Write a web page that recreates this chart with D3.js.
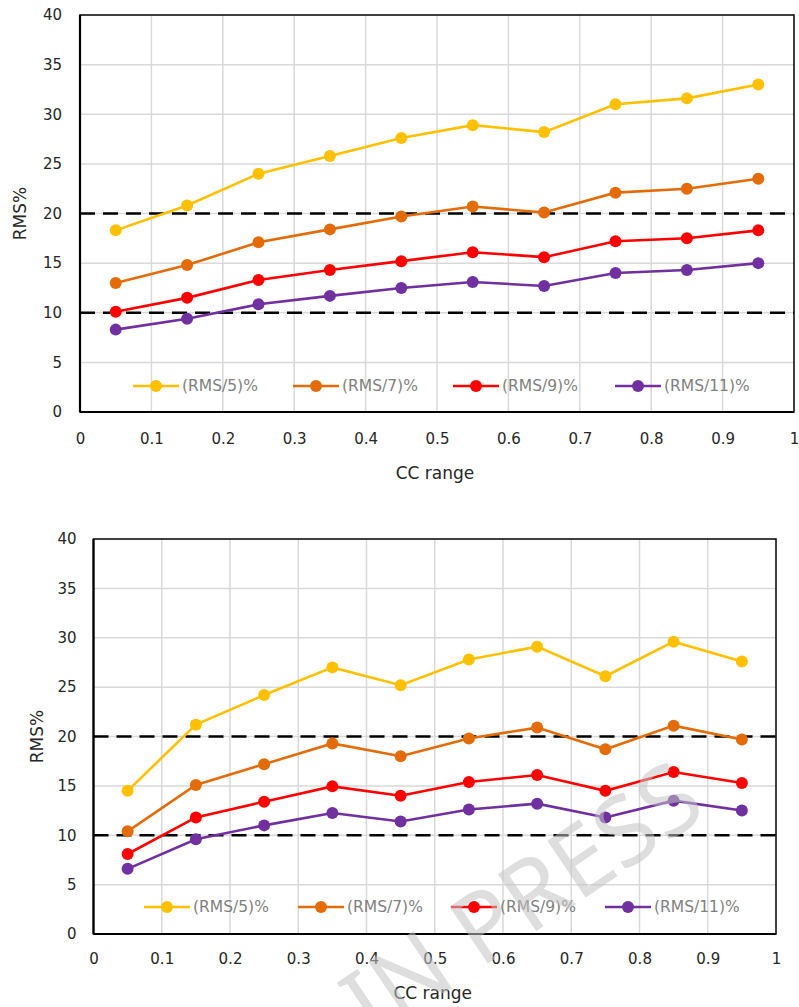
<!DOCTYPE html>
<html>
<head>
<meta charset="utf-8">
<script src="https://cdn.jsdelivr.net/npm/d3@7"></script>
<style>
  html, body { margin: 0; padding: 0; background: #fff; }
  svg { display: block; }
  text { font-family: "DejaVu Sans", "Noto Sans", sans-serif; }
</style>
</head>
<body>
<svg id="chart" width="799" height="1007"></svg>
<script>
// ---- Data ----
const ccRange = [0.05, 0.15, 0.25, 0.35, 0.45, 0.55, 0.65, 0.75, 0.85, 0.95];
const seriesNames = ["(RMS/5)%", "(RMS/7)%", "(RMS/9)%", "(RMS/11)%"];
const seriesColors = ["#FFC000", "#E36C09", "#FF0000", "#7030A0"];

// Top chart
const topRms5  = [18.3, 20.8, 24.0, 25.8, 27.6, 28.9, 28.2, 31.0, 31.6, 33.0];
const topRms7  = [13.0, 14.8, 17.1, 18.4, 19.7, 20.7, 20.1, 22.1, 22.5, 23.5];
const topRms9  = [10.1, 11.5, 13.3, 14.3, 15.2, 16.1, 15.6, 17.2, 17.5, 18.3];
const topRms11 = [8.3, 9.4, 10.85, 11.7, 12.5, 13.1, 12.7, 14.0, 14.3, 15.0];

// Bottom chart
const botRms5  = [14.5, 21.2, 24.2, 27.0, 25.2, 27.8, 29.1, 26.1, 29.6, 27.6];
const botRms7  = [10.4, 15.1, 17.2, 19.3, 18.0, 19.8, 20.9, 18.7, 21.1, 19.7];
const botRms9  = [8.1, 11.8, 13.4, 14.95, 14.0, 15.4, 16.1, 14.5, 16.4, 15.3];
const botRms11 = [6.6, 9.6, 11.0, 12.25, 11.4, 12.6, 13.2, 11.8, 13.5, 12.5];

const yTicks = [0, 5, 10, 15, 20, 25, 30, 35, 40];
const xTicks = [0, 0.1, 0.2, 0.3, 0.4, 0.5, 0.6, 0.7, 0.8, 0.9, 1];
const thresholds = [10, 20];
const xTitle = "CC range";
const yTitle = "RMS%";
const watermark = "IN PRESS";

const FONT = '"DejaVu Sans", "Noto Sans", sans-serif';
const svg = d3.select("#chart");

function drawChart(cfg) {
  const x = d3.scaleLinear().domain([0, 1]).range([cfg.left, cfg.right]);
  const y = d3.scaleLinear().domain([0, 40]).range([cfg.bottom, cfg.top]);
  const g = svg.append("g");

  // gridlines
  g.append("g").selectAll("line").data(yTicks.filter(d => d > 0 && d < 40)).join("line")
    .attr("x1", cfg.left).attr("x2", cfg.right)
    .attr("y1", d => y(d)).attr("y2", d => y(d))
    .attr("stroke", "#d9d9d9").attr("stroke-width", 1.5);
  g.append("g").selectAll("line").data(xTicks.filter(d => d > 0 && d < 1)).join("line")
    .attr("y1", cfg.top).attr("y2", cfg.bottom)
    .attr("x1", d => x(d)).attr("x2", d => x(d))
    .attr("stroke", "#d9d9d9").attr("stroke-width", 1.5);

  // threshold dashed lines
  g.append("g").selectAll("line").data(thresholds).join("line")
    .attr("x1", cfg.left).attr("x2", cfg.right)
    .attr("y1", d => y(d)).attr("y2", d => y(d))
    .attr("stroke", "#000").attr("stroke-width", 2.5)
    .attr("stroke-dasharray", "15,8");

  // axes via d3
  const yAxis = d3.axisLeft(y).tickValues(yTicks).tickSize(0).tickPadding(cfg.yPad).tickFormat(d3.format("d"));
  const xAxis = d3.axisBottom(x).tickValues(xTicks).tickSize(0).tickPadding(cfg.xPad)
    .tickFormat(d => d === 0 || d === 1 ? String(d) : d3.format(".1f")(d));
  const ya = g.append("g").attr("transform", `translate(${cfg.left},0)`).call(yAxis);
  const xa = g.append("g").attr("transform", `translate(0,${cfg.bottom})`).call(xAxis);
  [ya, xa].forEach(a => {
    a.select(".domain").remove();
    a.selectAll("text").attr("font-size", 15).attr("fill", "#262626").style("font-family", FONT);
  });

  // frame
  g.append("rect").attr("x", cfg.left).attr("y", cfg.top)
    .attr("width", cfg.right - cfg.left).attr("height", cfg.bottom - cfg.top)
    .attr("fill", "none").attr("stroke", "#000").attr("stroke-width", 1.5);
  g.append("line").attr("x1", cfg.left).attr("x2", cfg.left).attr("y1", cfg.top).attr("y2", cfg.bottom)
    .attr("stroke", "#000").attr("stroke-width", 2.2);
  g.append("line").attr("x1", cfg.left).attr("x2", cfg.right).attr("y1", cfg.bottom).attr("y2", cfg.bottom)
    .attr("stroke", "#000").attr("stroke-width", 2.2);

  // series
  const line = d3.line().x((d, i) => x(ccRange[i])).y(d => y(d));
  cfg.series.forEach((vals, si) => {
    g.append("path").datum(vals).attr("d", line)
      .attr("fill", "none").attr("stroke", seriesColors[si]).attr("stroke-width", 2.6);
    g.append("g").selectAll("circle").data(vals).join("circle")
      .attr("cx", (d, i) => x(ccRange[i])).attr("cy", d => y(d)).attr("r", 6)
      .attr("fill", seriesColors[si]);
  });

  // legend
  const lg = g.append("g");
  seriesNames.forEach((name, si) => {
    const lx = cfg.legendX[si];
    lg.append("line").attr("x1", lx).attr("x2", lx + 46).attr("y1", cfg.legendY).attr("y2", cfg.legendY)
      .attr("stroke", seriesColors[si]).attr("stroke-width", 2.6);
    lg.append("circle").attr("cx", lx + 23).attr("cy", cfg.legendY).attr("r", 6).attr("fill", seriesColors[si]);
    lg.append("text").attr("x", lx + 49).attr("y", cfg.legendY).attr("dy", "0.35em")
      .attr("font-size", 15.5).attr("fill", "#7f7f7f").text(name);
  });

  // titles
  g.append("text").attr("x", (cfg.left + cfg.right) / 2 - 2).attr("y", cfg.xTitleY)
    .attr("text-anchor", "middle").attr("dy", "0.35em").attr("font-size", 17).attr("fill", "#262626").text(xTitle);
  g.append("text").attr("transform", `translate(${cfg.yTitleX},${(cfg.top + cfg.bottom) / 2}) rotate(-90)`)
    .attr("text-anchor", "middle").attr("dy", "0.35em").attr("font-size", 17).attr("fill", "#262626").text(yTitle);
}

drawChart({
  left: 80, right: 794, top: 15, bottom: 412,
  yPad: 18, xPad: 21, xTitleY: 473, yTitleX: 20,
  legendX: [133, 293, 453, 615], legendY: 386,
  series: [topRms5, topRms7, topRms9, topRms11]
});

drawChart({
  left: 93.5, right: 776, top: 539, bottom: 934,
  yPad: 17, xPad: 19, xTitleY: 993, yTitleX: 37,
  legendX: [144, 298, 451, 605], legendY: 907,
  series: [botRms5, botRms7, botRms9, botRms11]
});

// watermark
svg.append("text").attr("transform", "translate(522,900) rotate(-34)")
  .attr("text-anchor", "middle").attr("dy", "0.35em")
  .attr("font-size", 96).attr("fill", "#c4c4c4").attr("opacity", 0.55)
  .style("font-family", '"Noto Sans", sans-serif')
  .text(watermark);
</script>
</body>
</html>
